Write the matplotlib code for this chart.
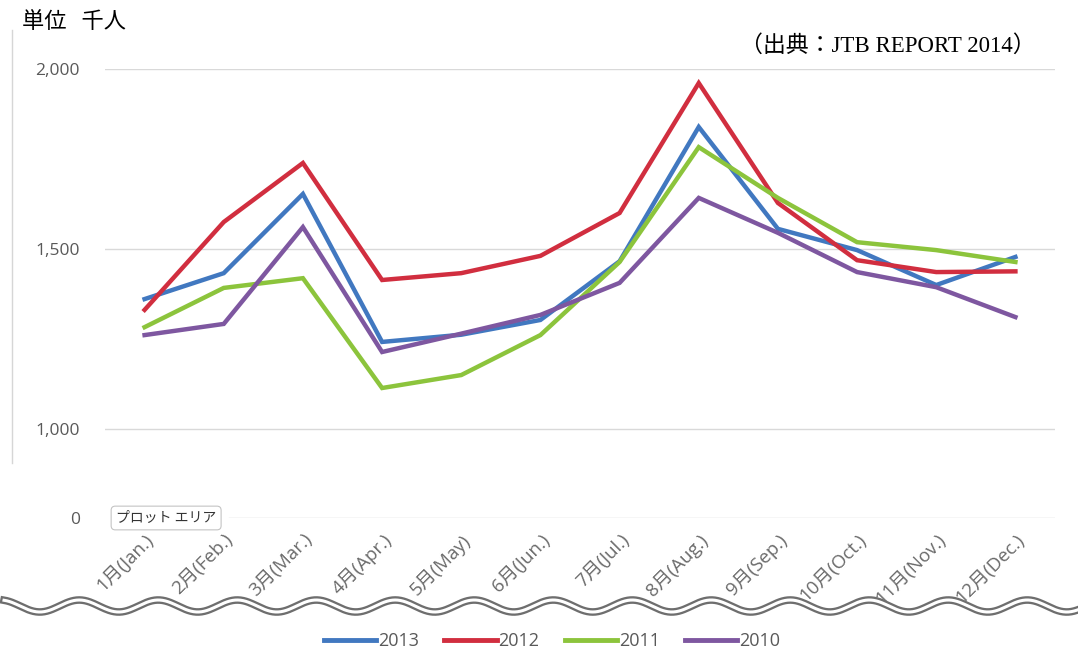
import numpy as np
import matplotlib
matplotlib.use("Agg")
import matplotlib.pyplot as plt

plt.rcParams['font.family'] = ['Open Sans', 'Noto Sans CJK JP', 'DejaVu Sans']

months = ['1月(Jan.)', '2月(Feb.)', '3月(Mar.)', '4月(Apr.)', '5月(May)', '6月(Jun.)',
          '7月(Jul.)', '8月(Aug.)', '9月(Sep.)', '10月(Oct.)', '11月(Nov.)', '12月(Dec.)']

# visitors, thousands
v2013 = [1361, 1433, 1653, 1242, 1262, 1303, 1466, 1839, 1556, 1497, 1400, 1478]
v2012 = [1331, 1575, 1739, 1414, 1433, 1481, 1600, 1961, 1628, 1469, 1436, 1438]
v2011 = [1283, 1392, 1419, 1114, 1150, 1261, 1464, 1783, 1642, 1519, 1497, 1464]
v2010 = [1261, 1292, 1561, 1214, 1265, 1317, 1406, 1642, 1545, 1436, 1394, 1311]

series = [('2013', v2013, '#4178c0'),
          ('2012', v2012, '#d12e3f'),
          ('2011', v2011, '#8cc43c'),
          ('2010', v2010, '#7e57a0')]

yticks = [1000, 1500, 2000]
ytick_labels = ['1,000', '1,500', '2,000']
# the value axis is cut between 0 and 1,000; zero sits just below the break
zero_pos = 753

W, H = 1078, 667
fig = plt.figure(figsize=(W / 100, H / 100), dpi=100)
fig.patch.set_facecolor('white')

ax = fig.add_axes([105 / W, 1 - 518 / H, 950 / W, 449 / H])
x = np.arange(len(months))
lines = []
for name, vals, col in series:
    ln, = ax.plot(x, vals, color=col, lw=3.2, label=name, solid_joinstyle='miter', zorder=3)
    lines.append(ln)

ax.set_xlim(-0.5, len(months) - 0.5)
ax.set_ylim(zero_pos, 2000)
for s in ax.spines.values():
    s.set_visible(False)
ax.set_yticks([zero_pos] + yticks)
ax.set_yticklabels(['0'] + ytick_labels, fontsize=12.5, color='#595959')
ax.tick_params(axis='y', length=0, pad=18)
ax.set_xticks(x)
ax.set_xticklabels(months, rotation=45, ha='right', rotation_mode='anchor',
                   fontsize=13.5, color='#6a6a6a')
ax.tick_params(axis='x', length=0, pad=9)
for v in yticks:
    ax.axhline(v, color='#d9d9d9', lw=1, zorder=1)
ax.axhline(zero_pos, xmin=0.13, color='#d4d4d4', lw=1, zorder=1)

# hover tip left over from the spreadsheet
ax.annotate('プロット エリア', xy=(116 / W, 1 - 518 / H), xycoords='figure fraction',
            fontsize=10, color='#333333', va='center', ha='left',
            family=['Noto Sans CJK JP'],
            bbox=dict(boxstyle='round,pad=0.35,rounding_size=0.3', fc='white',
                      ec='#c4c4c4', lw=0.8))

# unit and source
fig.text(22 / W, 1 - 22 / H, '単位   千人', fontsize=16, va='center', ha='left',
         family=['Noto Sans CJK JP'])
fig.text(1036 / W, 1 - 46 / H, '（出典：JTB REPORT 2014）', fontsize=16.5, va='center',
         ha='right', family=['Liberation Serif', 'Noto Sans CJK JP'])

# frame edge at left
fig.add_artist(plt.Line2D([12 / W, 12 / W], [1 - 30 / H, 1 - 463 / H], color='#d6d6d6', lw=1))

# wavy cut line across the chart
wx = np.linspace(4, W, 800)
wy = 606 + 6 * np.sin(2 * np.pi * (wx - 20) / 79)
fig.add_artist(plt.Line2D(wx / W, 1 - wy / H, color='#6e6e6e', lw=5.5))
fig.add_artist(plt.Line2D(wx / W, 1 - wy / H, color='white', lw=2.2))

leg = fig.legend(handles=lines, loc='center', bbox_to_anchor=(552 / W, 1 - 641 / H),
                 ncol=4, frameon=False, fontsize=13, handlelength=2.9,
                 handletextpad=0.1, columnspacing=1.4, labelcolor='#595959')
for h in leg.legend_handles:
    h.set_linewidth(3.5)

fig.savefig('out.png', dpi=100, facecolor='white')
